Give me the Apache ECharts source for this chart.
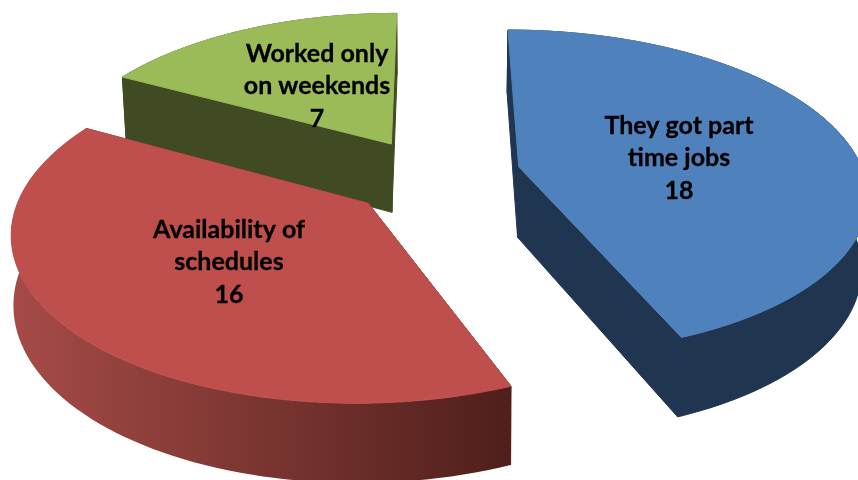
<!DOCTYPE html>
<html><head><meta charset="utf-8">
<style>html,body{margin:0;padding:0;background:#fff}#c{width:858px;height:480px}</style>
<script src="https://cdn.jsdelivr.net/npm/echarts@6/dist/echarts.min.js"></script>
</head><body><div id="c"></div>
<script>
var categories = ['They got part\ntime jobs', 'Availability of\nschedules', 'Worked only\non weekends'];
var values = [18, 16, 7];

// Layout of the perspective view
var CAM = {vx: 435, y0: 178, b: 160, k: 0.155, explode: 0.24};
var STYLE = [
  {top: '#4F81BD', wall: '#1F3550', arc: '#1F3550', text: [679, 158], shift: [3, -4], H: 72, m: 0.014, a: 345},
  {top: '#BE4F4C', wall: '#4F1F1B', arc: {type:'linear',x:0,y:0,x2:1,y2:0,colorStops:[{offset:0,color:'#A64B47'},{offset:1,color:'#4F1F1B'}]}, text: [229, 262], shift: [-4, -1], H: 67, m: 0.005, a: 342},
  {top: '#9BBB59', wall: '#404A23', arc: '#404A23', text: [317, 86], shift: [-3, -2], H: 71, m: 0.014, a: 342}
];
var DRAW_ORDER = [2, 0, 1]; // back to front

var total = values.reduce(function (s, v) { return s + v; }, 0);
function proj(X, Y, H, st) {
  var w = 1 + CAM.k * Y + (H ? st.m : 0);
  return [st.shift[0] + CAM.vx + st.a * X / w, st.shift[1] + CAM.y0 + (-CAM.b * Y + H) / w];
}
function sliceAngles(i) {
  var s = 0;
  for (var j = 0; j < i; j++) s += values[j];
  return [s / total * 2 * Math.PI, (s + values[i]) / total * 2 * Math.PI];
}
function renderSlice(params, api) {
  var i = params.dataIndex;
  var ang = sliceAngles(i), t0 = ang[0], t1 = ang[1], mid = (t0 + t1) / 2;
  var ox = CAM.explode * Math.sin(mid), oy = CAM.explode * Math.cos(mid);
  var st = STYLE[i], N = 80;
  var topArc = [], lowArc = [];
  for (var n = 0; n <= N; n++) {
    var t = t0 + (t1 - t0) * n / N;
    var X = ox + Math.sin(t), Y = oy + Math.cos(t);
    topArc.push(proj(X, Y, 0, st));
    lowArc.push(proj(X, Y, st.H, st));
  }
  var ct = proj(ox, oy, 0, st), cl = proj(ox, oy, st.H, st);
  var z = DRAW_ORDER.indexOf(i) * 10;
  function poly(pts, fill, dz) {
    return {type: 'polygon', shape: {points: pts}, z2: z + dz,
      style: {fill: fill, stroke: typeof fill === 'string' ? fill : null, lineWidth: 1}};
  }
  return {type: 'group', children: [
    poly([ct, topArc[0], lowArc[0], cl], st.wall, 0),
    poly([ct, topArc[N], lowArc[N], cl], st.wall, 1),
    poly(topArc.concat(lowArc.slice().reverse()), st.arc, 2),
    poly([ct].concat(topArc), st.top, 3),
    {type: 'text', z2: 100, style: {
      x: st.text[0], y: st.text[1], text: categories[i] + '\n' + values[i],
      align: 'center', verticalAlign: 'middle', fill: '#000', stroke: '#000', lineWidth: 0.3,
      font: 'bold 25px Lato', lineHeight: 32.5}}
  ]};
}
var chart = echarts.init(document.getElementById('c'), null, {renderer: 'canvas'});
chart.setOption({
  animation: false,
  series: [{type: 'custom', coordinateSystem: 'none', silent: true, clip: false,
    renderItem: renderSlice, data: values.map(function (v) { return [v]; })}]
});
</script></body></html>
